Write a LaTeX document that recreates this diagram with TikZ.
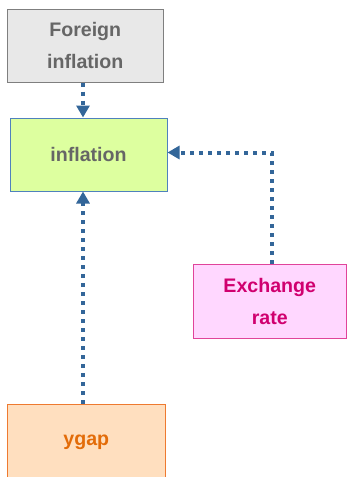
\documentclass[tikz,border=0pt]{standalone}
\usepackage{fontspec}
\setmainfont{Liberation Sans}
\usetikzlibrary{arrows.meta}
\definecolor{arr}{HTML}{336699}
\definecolor{grayfill}{HTML}{E8E8E8}
\definecolor{grayline}{HTML}{7F7F7F}
\definecolor{graytext}{HTML}{666666}
\definecolor{greenfill}{HTML}{DDFF9F}
\definecolor{blueline}{HTML}{4F81BD}
\definecolor{pinkfill}{HTML}{FFD7FF}
\definecolor{pinkline}{HTML}{E0449A}
\definecolor{pinktext}{HTML}{D0006F}
\definecolor{orangefill}{HTML}{FFDFBF}
\definecolor{orangeline}{HTML}{EE7A30}
\definecolor{orangetext}{HTML}{E36C09}
\begin{document}
\begin{tikzpicture}[x=1pt,y=-1pt,
  box/.style={draw, line width=1pt, rectangle, inner sep=0pt, align=center,
    font=\bfseries\fontsize{19.6}{32}\selectfont},
  link/.style={draw=arr, line width=4pt, dash pattern=on 4pt off 5pt,
    -{Triangle[length=12pt,width=13pt]}}]
\useasboundingbox (0,0) rectangle (347,477);
\node[box, fill=grayfill, draw=grayline, text=graytext,
  minimum width=155.5pt, minimum height=73pt] (fi) at (85.25,45.5) {Foreign\\inflation};
\node[box, fill=greenfill, draw=blueline, text=graytext,
  minimum width=157pt, minimum height=73pt] (infl) at (88.5,154.5) {inflation};
\node[box, fill=pinkfill, draw=pinkline, text=pinktext,
  minimum width=153.5pt, minimum height=74pt] (ex) at (269.75,301) {Exchange\\rate};
\node[box, fill=orangefill, draw=orangeline, text=orangetext,
  minimum width=157.5pt, minimum height=76pt] (yg) at (86.25,442) {ygap};
\coordinate (ax) at (83,0);
\coordinate (bx) at (271.5,152.5);
\draw[link] (fi.south -| ax) -- (infl.north -| ax);
\draw[link] (yg.north -| ax) -- (infl.south -| ax);
\draw[link] (ex.north -| bx) -- (bx) -- (infl.east |- bx);
\end{tikzpicture}
\end{document}
